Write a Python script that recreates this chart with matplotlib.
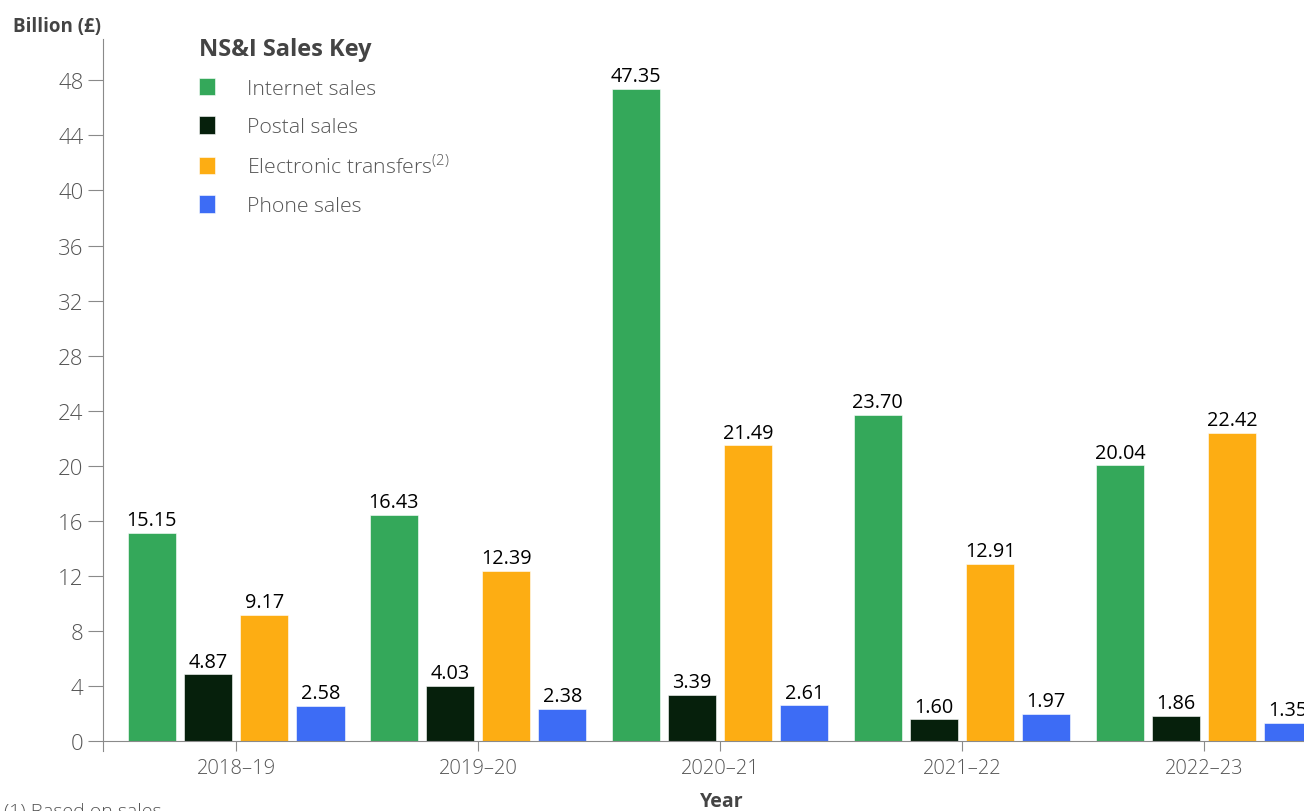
import matplotlib.pyplot as plt
import numpy as np

plt.rcParams['font.family'] = ['Open Sans', 'DejaVu Sans']
plt.rcParams['mathtext.fontset'] = 'custom'
plt.rcParams['mathtext.rm'] = 'Open Sans:light'

years = ['2018–19', '2019–20', '2020–21', '2021–22', '2022–23']
internet = [15.15, 16.43, 47.35, 23.70, 20.04]
postal = [4.87, 4.03, 3.39, 1.60, 1.86]
electronic = [9.17, 12.39, 21.49, 12.91, 22.42]
phone = [2.58, 2.38, 2.61, 1.97, 1.35]

series = [
    ('Internet sales', internet, '#34A85A'),
    ('Postal sales', postal, '#06200C'),
    ('Electronic transfers$^{(2)}$', electronic, '#FDAD13'),
    ('Phone sales', phone, '#3D6CF5'),
]

grey = '#555555'
axis_grey = '#8a8a8a'

fig = plt.figure(figsize=(13.04, 8.12), dpi=100)
ax = fig.add_axes([103 / 1304, 60 / 812, 1 - 103 / 1304, 712 / 812])

x = np.arange(len(years))
width = 0.2
step = 0.232
for i, (name, vals, col) in enumerate(series):
    bars = ax.bar(x + (i - 1.5) * step, vals, width, color=col,
                  edgecolor='white', linewidth=0.4, label=name)
    ax.bar_label(bars, labels=['%.2f' % v for v in vals], padding=2,
                 fontsize=14.3, color='black')

ax.set_xlim(-0.55, 4.413)
ax.set_ylim(-0.7, 51)
ax.set_yticks(range(0, 49, 4))
ax.set_xticks(x)
ax.set_xticklabels(years)

for s in ['top', 'right']:
    ax.spines[s].set_visible(False)
ax.spines['bottom'].set_position(('data', 0))
ax.spines['left'].set_color(axis_grey)
ax.spines['bottom'].set_color(axis_grey)
ax.tick_params(axis='y', length=11, color=axis_grey, labelcolor=grey,
               labelsize=16, pad=3)
ax.tick_params(axis='x', length=7, color=axis_grey, labelcolor=grey,
               labelsize=14.5, pad=5)
for lab in ax.get_xticklabels() + ax.get_yticklabels():
    lab.set_fontweight('light')

leg = ax.legend(loc='upper left', bbox_to_anchor=(0.064, 1.03), frameon=False,
                title='NS&I Sales Key', handlelength=0.75, handleheight=0.9,
                handletextpad=1.5, labelspacing=0.8, fontsize=15.3,
                alignment='left')
leg.get_title().set_fontweight('bold')
leg.get_title().set_fontsize(17)
leg.get_title().set_color('#444444')
for t in leg.get_texts():
    t.set_color(grey)
    t.set_fontweight('light')

fig.text(13 / 1304, 1 - 27 / 812, 'Billion (£)', fontsize=13.5, fontweight='bold',
         color='#444444', va='center', ha='left')
fig.text(722 / 1304, 1 - 802 / 812, 'Year', fontsize=14, fontweight='bold',
         color='#444444', va='center', ha='center')
fig.text(4 / 1304, 1 - 803 / 812, '(1) Based on sales', fontsize=14,
         color=grey, va='top', ha='left', fontweight='light')

fig.savefig('out.png', dpi=100)
